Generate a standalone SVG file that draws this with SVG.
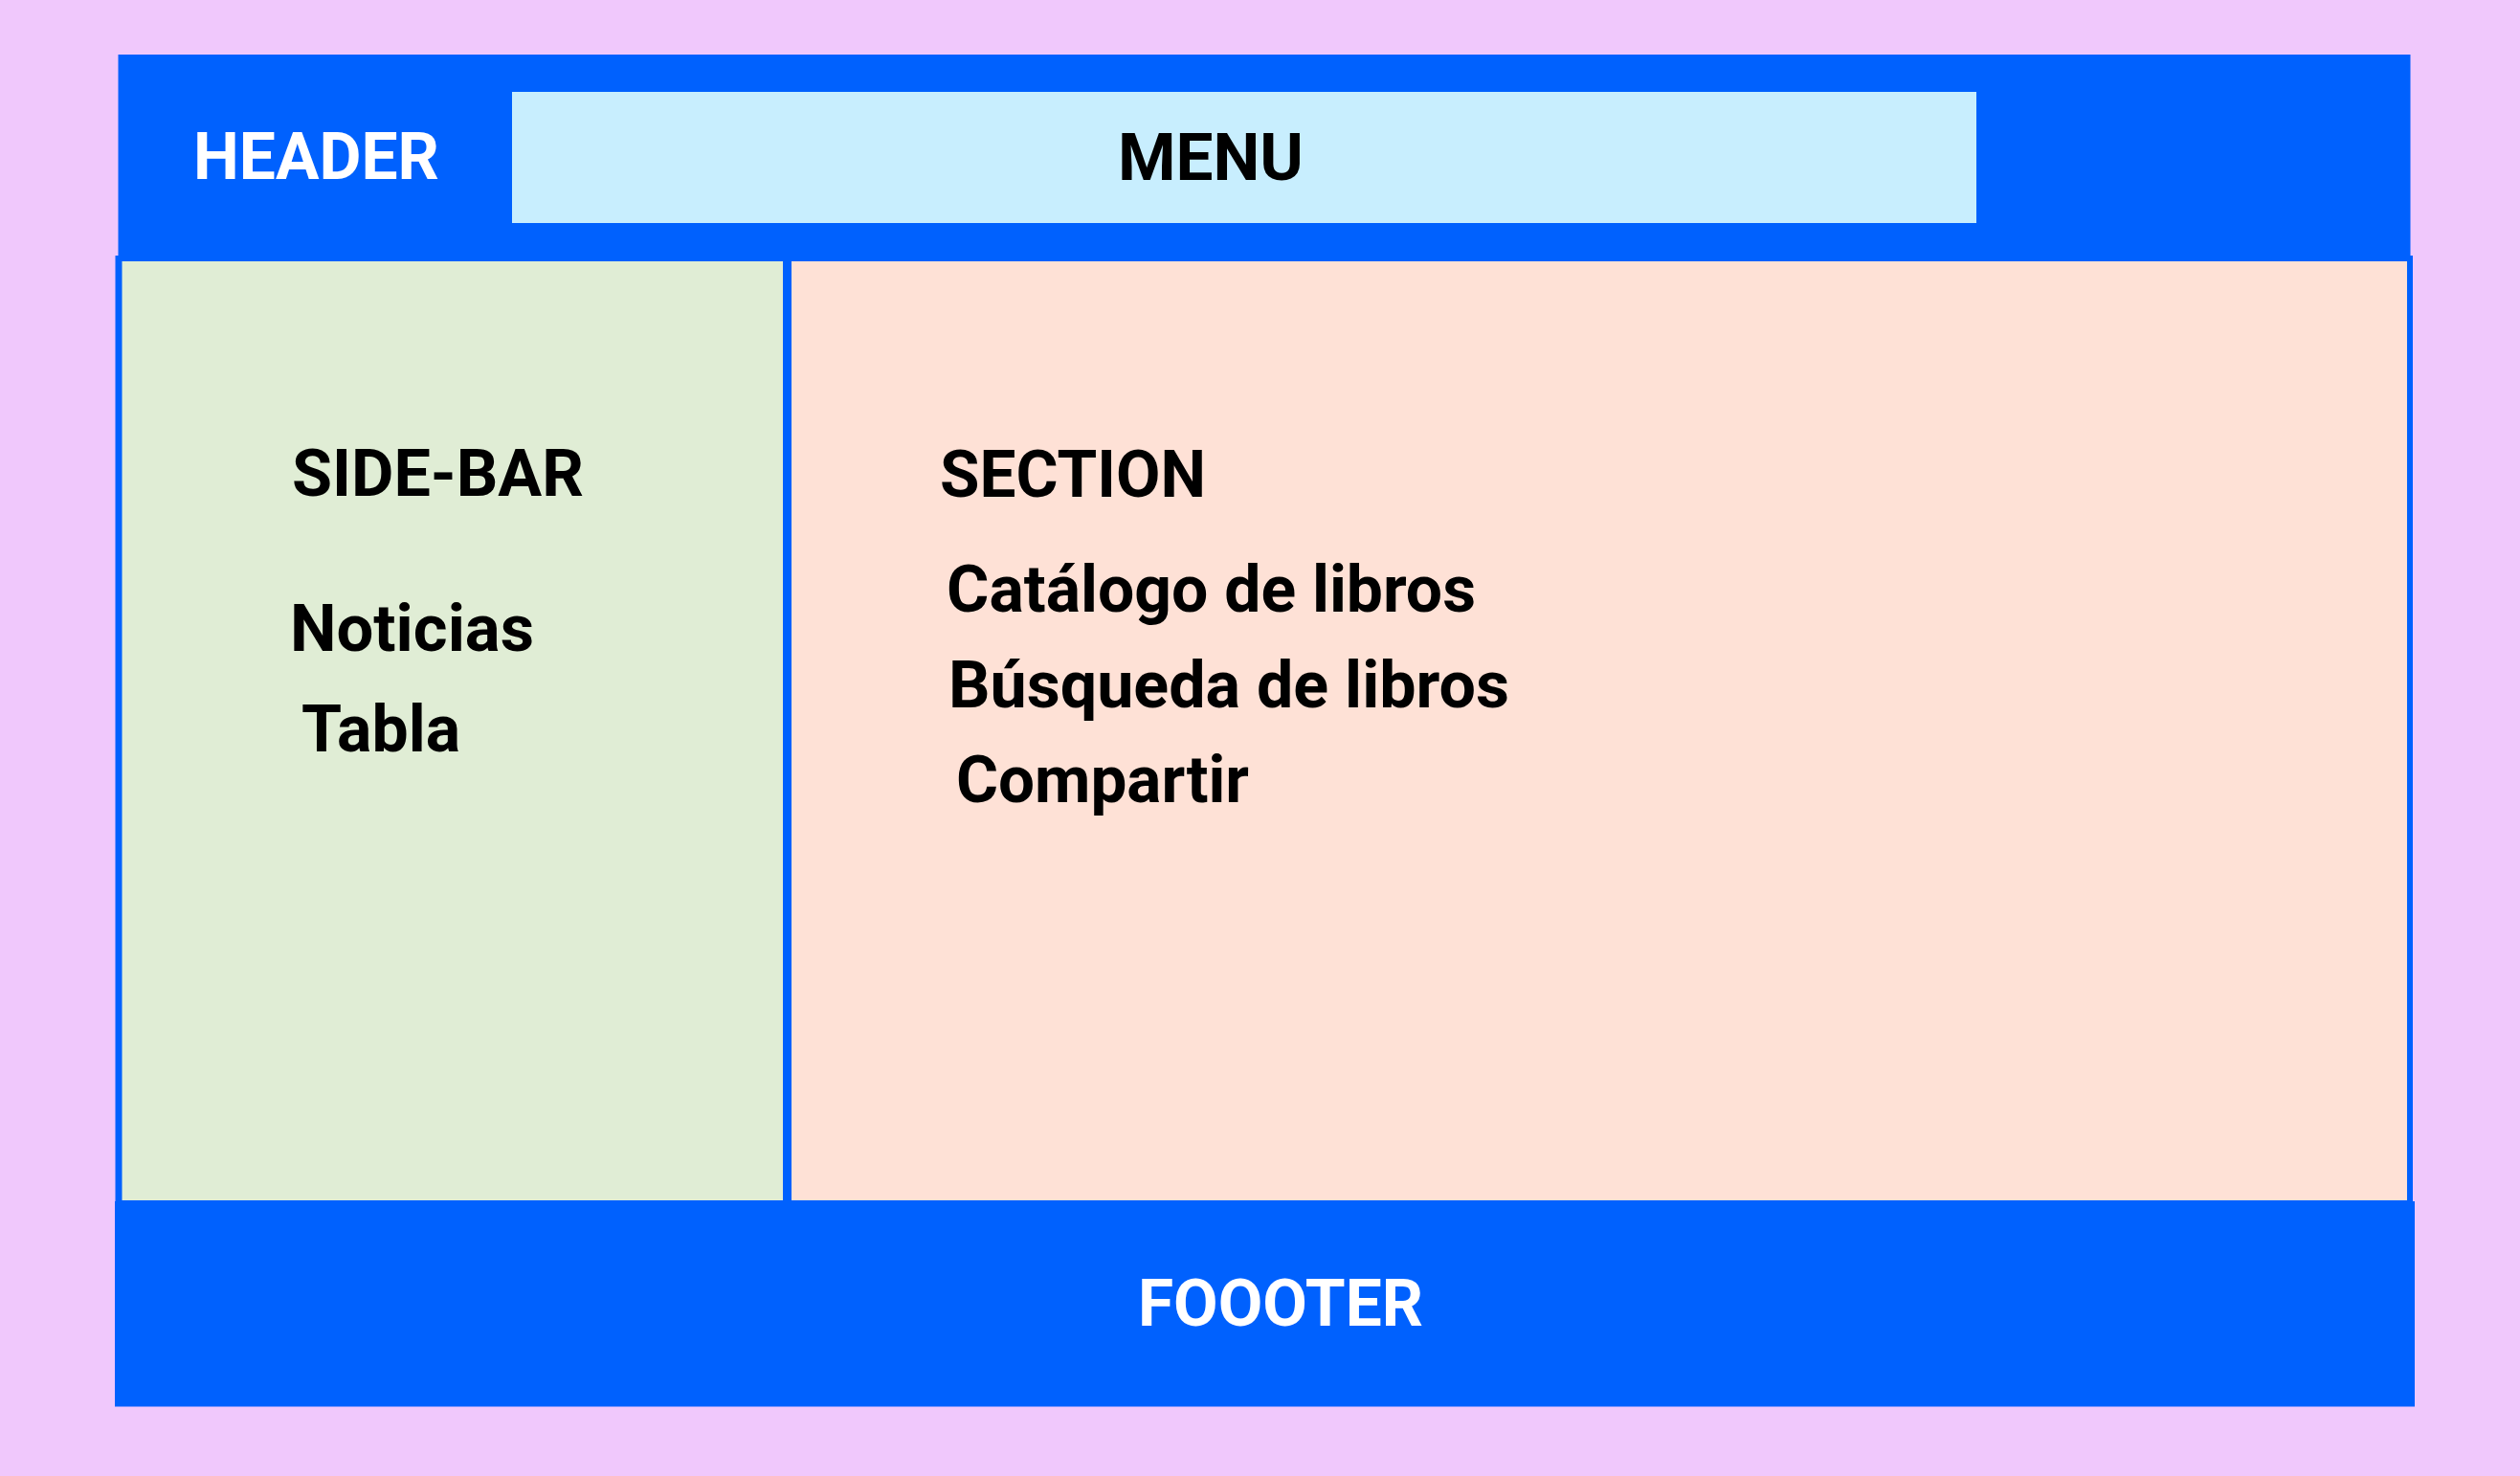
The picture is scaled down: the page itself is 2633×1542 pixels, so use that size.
<svg xmlns="http://www.w3.org/2000/svg" width="2633" height="1542" viewBox="0 0 2633 1542">
<style>
.blue{fill:#0061fe}
.t{font-family:Roboto,"Liberation Sans",sans-serif;font-weight:700;font-size:69px}
.w{fill:#ffffff}
.k{fill:#000000}
</style>
<rect x="0" y="0" width="2633" height="1542" fill="#f0c8fc"/>
<g id="header">
<rect class="blue" x="123.5" y="57" width="2395" height="216"/>
<text class="t w" x="202" y="187" textLength="257" lengthAdjust="spacingAndGlyphs">HEADER</text>
</g>
<g id="menu">
<rect x="535" y="96" width="1530" height="137" fill="#c8eefe"/>
<text class="t k" x="1168" y="188" textLength="194" lengthAdjust="spacingAndGlyphs">MENU</text>
</g>
<g id="body-frame">
<rect class="blue" x="120.5" y="267" width="2400.5" height="988"/>
</g>
<g id="sidebar">
<rect x="127.5" y="273" width="690.5" height="981" fill="#e0edd5"/>
<text class="t k" x="305" y="518" textLength="305" lengthAdjust="spacingAndGlyphs">SIDE-BAR</text>
<text class="t k" x="303" y="680" textLength="255" lengthAdjust="spacingAndGlyphs">Noticias</text>
<text class="t k" x="315" y="785" textLength="166" lengthAdjust="spacingAndGlyphs">Tabla</text>
</g>
<g id="section">
<rect x="827" y="273" width="1688" height="981" fill="#fee1d6"/>
<text class="t k" x="982" y="519" textLength="278" lengthAdjust="spacingAndGlyphs">SECTION</text>
<text class="t k" x="989" y="639" textLength="553" lengthAdjust="spacingAndGlyphs">Catálogo de libros</text>
<text class="t k" x="991" y="739" textLength="586" lengthAdjust="spacingAndGlyphs">Búsqueda de libros</text>
<text class="t k" x="999" y="838" textLength="306" lengthAdjust="spacingAndGlyphs">Compartir</text>
</g>
<g id="footer">
<rect class="blue" x="120" y="1255" width="2403" height="214.5"/>
<text class="t w" x="1189" y="1385" textLength="298" lengthAdjust="spacingAndGlyphs">FOOOTER</text>
</g>
<g id="connectors"/>
</svg>
